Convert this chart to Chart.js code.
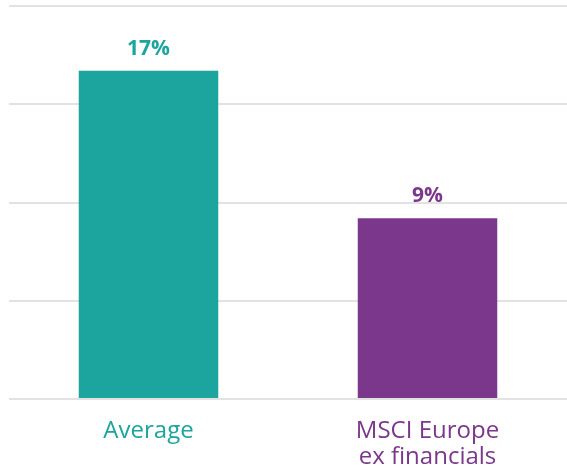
<!DOCTYPE html>
<html>
<head>
<meta charset="utf-8">
<script src="https://cdn.jsdelivr.net/npm/chart.js@4/dist/chart.umd.min.js"></script>
<style>
  html, body { margin: 0; padding: 0; background: #fff; }
  #wrap { width: 567px; height: 470px; }
</style>
</head>
<body>
<div id="wrap"><canvas id="mycanvas"></canvas></div>
<script>
var categories = [["Average"], ["MSCI Europe", "ex financials"]];
var values = [16.7, 9.2];
var valueLabels = ["17%", "9%"];
var colors = ["#1BA59E", "#7B378B"];

// draws the % labels above each bar
var barLabels = {
	id: 'barLabels',
	afterDatasetsDraw: function(chart) {
		var ctx = chart.ctx;
		var meta = chart.getDatasetMeta(0);
		ctx.save();
		ctx.font = "bold 21px 'Open Sans'";
		ctx.textAlign = 'center';
		ctx.textBaseline = 'alphabetic';
		meta.data.forEach(function(bar, i) {
			ctx.fillStyle = colors[i];
			ctx.fillText(valueLabels[i], bar.x, bar.y - 16);
		});
		ctx.restore();
	}
};

var ctx = document.getElementById("mycanvas");
var myBarChart = new Chart(ctx, {
	type: 'bar',
	data: {
		labels: categories,
		datasets: [{
			data: values,
			backgroundColor: colors,
			borderWidth: 0,
			categoryPercentage: 1,
			barPercentage: 0.5
		}]
	},
	options: {
		responsive: true,
		maintainAspectRatio: false,
		animation: false,
		layout: { padding: { top: 6, left: 9, right: 0, bottom: 0 } },
		plugins: { legend: { display: false }, tooltip: { enabled: false } },
		scales: {
			x: {
				grid: { display: false },
				border: { display: false },
				afterFit: function(s) { s.height = 71; },
				ticks: {
					padding: 12,
					font: { family: "'Open Sans'", size: 24, lineHeight: 1.05 },
					color: function(c) { return colors[c.index]; }
				}
			},
			y: {
				min: 0,
				max: 20,
				ticks: { display: false, stepSize: 5 },
				grid: { color: "#e2e2e2", lineWidth: 2, drawTicks: false },
				border: { display: false }
			}
		}
	},
	plugins: [barLabels]
});
</script>
</body>
</html>
